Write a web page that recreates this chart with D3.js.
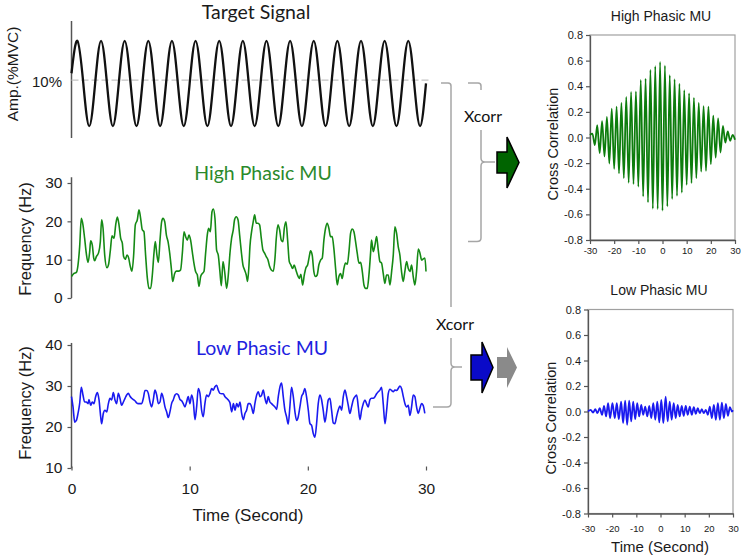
<!DOCTYPE html>
<head>
  <meta charset="utf-8">
  <script src="https://cdnjs.cloudflare.com/ajax/libs/d3/7.8.5/d3.min.js"></script>
</head>

<style>

body {
  margin: 0;
  background-color: #fff;
}

svg {
  display: block;
}

.arial, .tick text {
  font-family: Arial, "Liberation Sans", sans-serif;
  fill: #1a1a1a;
}

.cal {
  font-family: Lato, "Open Sans", sans-serif;
}

.bracket {
  fill: none;
  stroke: #a6a6a6;
  stroke-width: 1.5;
}

</style>

<body>
  <svg id='fig' width='743' height='559'></svg>
</body>

<script>

// ---- data ----
var timeTicks = [0, 10, 20, 30];
var highTicks = [0, 10, 20, 30];
var lowTicks = [10, 20, 30, 40];
var xcTicks = [-0.8, -0.6, -0.4, -0.2, 0, 0.2, 0.4, 0.6, 0.8];
var lagTicks = [-30, -20, -10, 0, 10, 20, 30];

// target sine, one value every 0.5 s (0..30 s)
var targetStep = 0.5;
var targetAmp = [10.6, 13.45, 9.7, 5.95, 9.7, 13.45, 9.7, 5.95, 9.7, 13.45, 9.7, 5.95,
  9.7, 13.45, 9.7, 5.95, 9.7, 13.45, 9.7, 5.95, 9.7, 13.45, 9.7, 5.95, 9.7, 13.45,
  9.7, 5.95, 9.7, 13.45, 9.7, 5.95, 9.7, 13.45, 9.7, 5.95, 9.7, 13.45, 9.7, 5.95,
  9.7, 13.45, 9.7, 5.95, 9.7, 13.45, 9.7, 5.95, 9.7, 13.45, 9.7, 5.95, 9.7, 13.45,
  9.7, 5.95, 9.7, 13.45, 9.7, 5.95, 9.7];
var targetLevel = 10;

// high phasic MU discharge rate [s, Hz]
var highMU = [[0,5.6],[0.21,6.4],[0.41,6.7],[0.55,8.6],[0.69,13.4],[0.83,20.8],[0.97,19.1],
  [1.11,15.6],[1.25,11.7],[1.4,9.3],[1.54,12.1],[1.62,14.9],[1.76,13.8],[1.88,10.4],[1.96,9.7],
  [2.1,10.8],[2.3,11.9],[2.44,14.7],[2.55,20.4],[2.67,18.2],[2.81,11.2],[3.0,7.9],[3.14,8.8],
  [3.29,12.5],[3.43,16.2],[3.6,15.6],[3.74,19.1],[3.88,21.1],[4.02,19.1],[4.16,15.6],[4.3,14.3],
  [4.41,10.8],[4.55,10.1],[4.7,11.2],[4.84,10.4],[4.98,8.2],[5.12,7.0],[5.26,11.2],[5.4,19.1],
  [5.57,20.4],[5.71,23.0],[5.85,20.8],[5.99,17.8],[6.13,17.3],[6.27,11.2],[6.42,5.1],[6.56,2.5],
  [6.7,2.5],[6.84,6.0],[6.98,11.7],[7.09,14.7],[7.23,11.2],[7.35,9.3],[7.49,15.1],[7.63,19.9],
  [7.74,20.8],[7.89,19.9],[8.03,16.4],[8.17,14.7],[8.31,11.7],[8.45,7.7],[8.56,4.3],[8.73,6.4],
  [8.87,7.0],[9.09,7.0],[9.23,7.3],[9.38,11.7],[9.52,17.3],[9.66,16.0],[9.8,15.1],[9.94,16.4],
  [10.08,15.1],[10.22,12.1],[10.36,9.1],[10.5,6.9],[10.65,6.0],[10.79,3.0],[10.93,5.6],[11.07,6.4],
  [11.21,6.9],[11.35,11.7],[11.49,16.4],[11.6,18.2],[11.75,17.3],[11.89,22.5],[12.0,23.2],
  [12.14,20.8],[12.28,12.5],[12.42,11.2],[12.56,6.9],[12.68,3.2],[12.82,9.5],[12.96,6.9],
  [13.13,2.5],[13.27,6.0],[13.41,11.7],[13.55,15.6],[13.69,17.8],[13.8,20.4],[13.94,21.2],
  [14.09,20.4],[14.23,16.4],[14.37,12.1],[14.51,8.6],[14.65,7.3],[14.79,6.0],[14.9,4.3],
  [15.02,8.6],[15.1,13.4],[15.24,17.3],[15.38,19.9],[15.5,21.7],[15.64,19.5],[15.78,19.5],
  [15.92,19.1],[16.06,15.6],[16.2,12.5],[16.34,11.7],[16.48,10.8],[16.63,9.9],[16.77,8.2],
  [16.91,7.3],[17.08,7.0],[17.22,10.4],[17.33,15.6],[17.47,19.1],[17.61,17.8],[17.75,15.1],
  [17.89,14.7],[18.01,18.2],[18.15,19.9],[18.29,15.1],[18.43,9.5],[18.57,8.6],[18.71,7.7],
  [18.85,8.6],[18.99,7.3],[19.13,6.0],[19.27,5.1],[19.41,6.2],[19.56,3.4],[19.7,6.0],[19.84,7.9],
  [19.98,8.6],[20.12,10.8],[20.23,12.3],[20.37,11.2],[20.51,6.9],[20.65,5.6],[20.79,6.0],
  [20.93,8.6],[21.08,9.9],[21.22,10.4],[21.36,15.1],[21.5,18.2],[21.64,19.5],[21.78,18.2],
  [21.92,16.0],[22.06,16.0],[22.2,13.0],[22.35,7.7],[22.49,3.4],[22.63,5.6],[22.77,6.4],
  [22.91,5.1],[23.05,7.7],[23.19,9.1],[23.34,8.8],[23.48,12.1],[23.62,16.9],[23.76,18.0],
  [23.9,17.3],[24.04,14.7],[24.18,11.7],[24.33,9.1],[24.47,9.3],[24.61,6.9],[24.75,3.4],
  [24.89,2.5],[25.03,2.5],[25.17,6.0],[25.31,11.7],[25.39,15.1],[25.54,12.1],[25.68,13.8],
  [25.82,16.0],[25.96,12.5],[26.1,9.5],[26.24,9.1],[26.38,6.4],[26.52,3.8],[26.66,6.0],
  [26.8,6.0],[26.95,3.4],[27.09,6.9],[27.23,11.2],[27.37,18.6],[27.51,16.9],[27.65,13.4],
  [27.79,11.2],[27.93,6.9],[28.07,4.3],[28.21,6.9],[28.36,9.5],[28.5,7.7],[28.64,6.9],
  [28.78,8.6],[28.92,5.6],[29.06,3.4],[29.2,6.9],[29.35,12.8],[29.49,11.7],[29.63,9.9],
  [29.77,10.2],[29.91,10.4],[30.0,6.9]];

// low phasic MU discharge rate [s, Hz]
var lowMU = [[0,27.4],[0.13,24.9],[0.27,21.2],[0.41,21.6],[0.55,23.3],[0.69,25.7],[0.83,29.7],
  [0.97,27.8],[1.11,26.1],[1.25,26.1],[1.4,25.7],[1.48,26.7],[1.62,25.3],[1.76,26.1],[1.9,25.7],
  [2.04,27.4],[2.19,28.4],[2.33,26.6],[2.47,22.5],[2.55,20.8],[2.69,23.3],[2.83,24.1],[2.98,23.7],
  [3.12,25.7],[3.26,27.0],[3.4,26.6],[3.54,28.4],[3.68,26.6],[3.82,25.7],[3.96,28.2],[4.1,27.0],
  [4.24,25.3],[4.39,26.1],[4.53,27.0],[4.67,27.8],[4.81,28.2],[4.95,27.5],[5.09,27.0],[5.23,26.7],
  [5.37,26.4],[5.51,25.9],[5.65,25.7],[5.8,25.7],[5.94,25.7],[6.08,27.0],[6.22,28.9],[6.36,28.9],
  [6.5,28.2],[6.64,26.1],[6.78,24.9],[6.92,26.6],[7.06,29.0],[7.21,27.8],[7.35,25.7],[7.49,26.1],
  [7.63,28.2],[7.77,27.0],[7.91,24.9],[8.05,23.7],[8.19,22.3],[8.33,23.7],[8.47,25.7],[8.61,26.6],
  [8.76,27.8],[8.9,28.1],[9.04,27.8],[9.18,26.7],[9.32,26.4],[9.46,25.7],[9.6,24.9],[9.74,26.1],
  [9.88,27.4],[10.02,25.7],[10.17,27.8],[10.31,26.1],[10.45,21.8],[10.59,24.9],[10.73,29.4],
  [10.87,28.2],[11.01,24.1],[11.15,22.5],[11.29,25.7],[11.43,27.8],[11.58,27.4],[11.72,28.2],
  [11.86,29.4],[12.0,29.0],[12.14,29.8],[12.28,30.2],[12.42,29.0],[12.56,28.2],[12.7,28.1],
  [12.84,28.1],[12.99,27.4],[13.13,27.0],[13.27,26.6],[13.41,25.9],[13.56,23.7],[13.7,25.7],
  [13.84,24.1],[13.98,25.7],[14.12,24.9],[14.26,26.1],[14.4,23.3],[14.54,21.8],[14.68,23.3],
  [14.82,24.1],[14.96,25.7],[15.1,25.7],[15.24,24.9],[15.38,23.3],[15.52,25.7],[15.67,27.8],
  [15.81,28.6],[15.95,27.4],[16.09,27.8],[16.23,29.0],[16.37,27.0],[16.51,25.7],[16.65,27.4],
  [16.79,26.1],[16.93,25.7],[17.07,25.3],[17.22,24.9],[17.36,24.3],[17.5,27.4],[17.64,29.8],
  [17.78,30.7],[17.92,27.4],[18.06,24.1],[18.2,22.5],[18.34,20.7],[18.48,24.9],[18.62,29.7],
  [18.77,27.4],[18.91,23.7],[19.05,21.6],[19.19,22.5],[19.33,24.9],[19.47,27.4],[19.61,28.2],
  [19.75,29.4],[19.89,27.4],[20.04,24.1],[20.18,20.8],[20.32,20.4],[20.46,18.4],[20.6,17.5],
  [20.74,20.8],[20.88,25.7],[21.02,27.8],[21.16,26.7],[21.3,24.1],[21.45,21.2],[21.59,23.7],
  [21.73,26.6],[21.87,27.0],[22.01,24.1],[22.15,21.0],[22.29,20.8],[22.43,22.5],[22.57,24.1],
  [22.72,25.1],[22.86,24.1],[23.0,27.4],[23.14,29.0],[23.28,27.4],[23.42,25.3],[23.56,23.3],
  [23.7,24.9],[23.84,26.6],[23.99,27.4],[24.13,27.8],[24.27,24.9],[24.41,21.8],[24.55,24.1],
  [24.69,25.7],[24.83,26.6],[24.97,25.7],[25.11,24.9],[25.25,26.6],[25.39,27.0],[25.54,27.0],
  [25.68,27.4],[25.82,28.1],[25.96,28.6],[26.1,29.0],[26.24,29.7],[26.38,25.7],[26.53,20.8],
  [26.67,24.1],[26.81,28.2],[26.95,29.2],[27.09,28.9],[27.23,28.6],[27.37,29.0],[27.51,28.9],
  [27.65,29.4],[27.79,30.0],[27.93,29.4],[28.08,27.4],[28.22,25.7],[28.36,24.9],[28.5,25.3],
  [28.64,22.8],[28.78,24.9],[28.92,27.8],[29.06,27.4],[29.2,24.9],[29.34,23.3],[29.48,24.5],
  [29.62,25.7],[29.76,25.3],[29.9,23.3]];

// cross correlation, high phasic MU vs target [lag s, r]
var xcHigh = [[-30,0.02],[-29,0.03],[-28,-0.06],[-27,0.096],[-26,-0.122],[-25,0.127],
  [-24,-0.148],[-23,0.16],[-22,-0.203],[-21,0.226],[-20,-0.244],[-19,0.24],[-18,-0.28],
  [-17,0.27],[-16,-0.317],[-15,0.317],[-14,-0.353],[-13,0.356],[-12,-0.364],[-11,0.36],
  [-10,-0.384],[-9,0.45],[-8,-0.46],[-7,0.46],[-6,-0.506],[-5,0.527],[-4,-0.556],[-3,0.556],
  [-2,-0.558],[-1,0.59],[0,-0.571],[1,0.56],[2,-0.538],[3,0.486],[4,-0.48],[5,0.455],
  [6,-0.455],[7,0.42],[8,-0.43],[9,0.37],[10,-0.37],[11,0.345],[12,-0.356],[13,0.31],
  [14,-0.317],[15,0.27],[16,-0.267],[17,0.244],[18,-0.26],[19,0.24],[20,-0.208],[21,0.17],
  [22,-0.156],[23,0.15],[24,-0.117],[25,0.09],[26,-0.04],[27,0.047],[28,-0.026],[29,0.02],
  [30,-0.018]];

// cross correlation, low phasic MU vs target [lag s, r]
var xcLow = [[-30,0],[-28.89,0.013],[-27.92,-0.008],[-26.95,0.018],[-26.12,-0.013],[-25.15,0.026],
  [-24.18,-0.026],[-23.35,0.044],[-22.52,-0.039],[-21.69,0.065],[-20.86,-0.052],[-19.89,0.065],
  [-18.92,-0.052],[-18.09,0.065],[-17.26,-0.06],[-16.29,0.078],[-15.46,-0.091],[-14.63,0.086],
  [-13.8,-0.104],[-12.96,0.086],[-12.13,-0.078],[-11.3,0.078],[-10.47,-0.06],[-9.64,0.065],
  [-8.81,-0.039],[-7.98,0.052],[-7.15,-0.026],[-6.32,0.039],[-5.48,-0.039],[-4.65,0.044],
  [-3.82,-0.052],[-2.99,0.065],[-2.16,-0.065],[-1.33,0.078],[-0.5,-0.086],[0.33,0.091],
  [1.16,-0.091],[2.13,0.117],[2.96,-0.078],[3.8,0.078],[4.63,-0.065],[5.46,0.065],[6.29,-0.052],
  [7.12,0.052],[7.95,-0.039],[8.78,0.044],[9.61,-0.034],[10.44,0.044],[11.27,-0.026],[12.11,0.039],
  [12.94,-0.026],[13.77,0.034],[14.6,-0.018],[15.43,0.026],[16.26,-0.013],[17.09,0.018],
  [17.92,-0.013],[18.75,0.013],[19.58,-0.026],[20.42,0.039],[21.25,-0.052],[22.08,0.052],
  [22.91,-0.065],[23.74,0.065],[24.57,-0.065],[25.4,0.07],[26.23,-0.052],[27.06,0.06],
  [27.89,-0.034],[28.73,0.034],[29.56,0],[30,0.01]];

// ---- drawing ----
var svg = d3.select('#fig');

var xTime = d3.scaleLinear().domain([0, 30]).range([71.5, 426]);
var yTarget = d3.scaleLinear().domain([4.9, 15.2]).range([138, 21]);
var yHigh = d3.scaleLinear().domain([0, 30]).range([298, 183]);
var yLow = d3.scaleLinear().domain([10, 40]).range([468, 345]);

var xLagH = d3.scaleLinear().domain([-30, 30]).range([590, 735]);
var yXcH = d3.scaleLinear().domain([-0.8, 0.8]).range([240, 35]);
var xLagL = d3.scaleLinear().domain([-30, 30]).range([588, 733]);
var yXcL = d3.scaleLinear().domain([-0.8, 0.8]).range([513.5, 309.5]);

function text(x, y, str, size, cls, anchor, color, rot) {
  var t = svg.append('text')
    .attr('class', cls)
    .attr('font-size', size + 'px')
    .attr('text-anchor', anchor || 'middle')
    .style('fill', color || '#1a1a1a')
    .text(str);
  if (rot) t.attr('transform', 'translate(' + x + ',' + y + ') rotate(-90)');
  else t.attr('x', x).attr('y', y);
  return t;
}

function styleAxis(g, size, keepDomain) {
  g.selectAll('.tick text').attr('font-size', size + 'px');
  g.selectAll('.tick line').attr('stroke', '#555').attr('stroke-width', 1.2);
  if (keepDomain) g.select('.domain').attr('stroke', '#555').attr('stroke-width', 1.3);
  else g.select('.domain').remove();
}

// target signal panel
svg.append('line')
  .attr('x1', xTime(0)).attr('x2', xTime(0))
  .attr('y1', yTarget.range()[1]).attr('y2', yTarget.range()[0])
  .attr('stroke', '#555').attr('stroke-width', 1.5);

svg.append('line')
  .attr('x1', xTime(0)).attr('x2', xTime(30) + 3)
  .attr('y1', yTarget(targetLevel)).attr('y2', yTarget(targetLevel))
  .attr('stroke', '#c4c4c4').attr('stroke-width', 1.2)
  .attr('stroke-dasharray', '7,3');

svg.append('path')
  .datum(targetAmp)
  .attr('fill', 'none')
  .attr('stroke', '#111')
  .attr('stroke-width', 2.3)
  .attr('d', d3.line()
    .x(function(d, i) { return xTime(i * targetStep); })
    .y(function(d) { return yTarget(d); })
    .curve(d3.curveNatural));

text(256, 18.5, 'Target Signal', 19.5, 'cal');
text(62, 87, '10%', 15, 'arial', 'end');
text(18, 74, 'Amp.(%MVC)', 15.5, 'arial', 'middle', '#1a1a1a', true);

// high phasic MU panel
var gH = svg.append('g')
  .attr('transform', 'translate(' + xTime(0) + ',0)')
  .call(d3.axisLeft(yHigh).tickValues(highTicks).tickSize(4).tickSizeOuter(0).tickPadding(5));
styleAxis(gH, 15.5, false);
svg.append('line')
  .attr('x1', xTime(0)).attr('x2', xTime(0))
  .attr('y1', yHigh(31.5)).attr('y2', yHigh(0))
  .attr('stroke', '#555').attr('stroke-width', 1.5);

svg.append('path')
  .datum(highMU)
  .attr('fill', 'none')
  .attr('stroke', '#158a15')
  .attr('stroke-width', 1.6)
  .attr('d', d3.line()
    .x(function(d) { return xTime(d[0]); })
    .y(function(d) { return yHigh(d[1]); })
    .curve(d3.curveMonotoneX));

text(263, 180, 'High Phasic MU', 19.5, 'cal', 'middle', '#2b8a2b');
text(31, 239, 'Frequency (Hz)', 16.5, 'arial', 'middle', '#1a1a1a', true);

// low phasic MU panel
var gL = svg.append('g')
  .attr('transform', 'translate(' + xTime(0) + ',0)')
  .call(d3.axisLeft(yLow).tickValues(lowTicks).tickSize(4).tickSizeOuter(0).tickPadding(5));
styleAxis(gL, 15.5, false);
svg.append('line')
  .attr('x1', xTime(0)).attr('x2', xTime(0))
  .attr('y1', yLow(40.5)).attr('y2', yLow(10))
  .attr('stroke', '#555').attr('stroke-width', 1.5);

var gX = svg.append('g')
  .attr('transform', 'translate(0,466.5)')
  .call(d3.axisBottom(xTime).tickValues(timeTicks).tickSize(4).tickSizeOuter(0).tickPadding(12));
styleAxis(gX, 15.5, false);

svg.append('path')
  .datum(lowMU)
  .attr('fill', 'none')
  .attr('stroke', '#1a1af0')
  .attr('stroke-width', 1.6)
  .attr('d', d3.line()
    .x(function(d) { return xTime(d[0]); })
    .y(function(d) { return yLow(d[1]); })
    .curve(d3.curveMonotoneX));

text(262, 355, 'Low Phasic MU', 19.5, 'cal', 'middle', '#1f1fe0');
text(31, 403, 'Frequency (Hz)', 16.5, 'arial', 'middle', '#1a1a1a', true);
text(248, 521, 'Time (Second)', 17, 'arial');

// brackets and arrows
svg.append('path').attr('class', 'bracket')
  .attr('d', 'M468,83 H478 Q481,83 481,86 V90 ' +
             'M481,130 V158 Q481,162 485,162 H495 M485,162 Q481,162 481,166 V238 Q481,241.5 477,241.5 H468');
svg.append('path').attr('class', 'bracket')
  .attr('d', 'M441,83 H448 Q451,83 451,86 V307 ' +
             'M451,338 V363 Q451,367 455,367 H462 M455,367 Q451,367 451,371 V403 Q451,407 447,407 H433');

text(483, 122, 'Xcorr', 16, 'cal', 'middle', '#111');
text(455, 330, 'Xcorr', 16, 'cal', 'middle', '#111');

svg.append('path')
  .attr('d', 'M497,152 H507 V137 L519,162.5 L507,188 V173 H497 Z')
  .attr('fill', '#006400').attr('stroke', '#000').attr('stroke-width', 1.5)
  .attr('stroke-linejoin', 'miter');
svg.append('path')
  .attr('d', 'M471,355 H482 V342 L493,367.5 L482,393 V380 H471 Z')
  .attr('fill', '#0a0ac8').attr('stroke', '#000').attr('stroke-width', 1.5);
svg.append('path')
  .attr('d', 'M497,357 H507 V347 L517,367.5 L507,388 V378 H497 Z')
  .attr('fill', '#8a8a8a');

// cross correlation panels
function xcPanel(xs, ys, data, color, xPad) {
  svg.append('rect')
    .attr('x', xs.range()[0]).attr('y', ys.range()[1])
    .attr('width', xs.range()[1] - xs.range()[0])
    .attr('height', ys.range()[0] - ys.range()[1])
    .attr('fill', 'none').attr('stroke', '#a0a0a0').attr('stroke-width', 1.2);

  var gy = svg.append('g')
    .attr('transform', 'translate(' + xs.range()[0] + ',0)')
    .call(d3.axisLeft(ys).tickValues(xcTicks).tickSize(4).tickSizeOuter(0).tickPadding(3)
      .tickFormat(function(d) { return d.toFixed(1); }));
  styleAxis(gy, 11, true);

  var gx = svg.append('g')
    .attr('transform', 'translate(0,' + ys.range()[0] + ')')
    .call(d3.axisBottom(xs).tickValues(lagTicks).tickSize(4).tickSizeOuter(0).tickPadding(xPad)
      .tickFormat(function(d) { return String(d); }));
  styleAxis(gx, 9.5, true);

  svg.append('path')
    .datum(data)
    .attr('fill', 'none')
    .attr('stroke', color)
    .attr('stroke-width', 1.8)
    .attr('d', d3.line()
      .x(function(d) { return xs(d[0]); })
      .y(function(d) { return ys(d[1]); })
      .curve(d3.curveMonotoneX));
}

xcPanel(xLagH, yXcH, xcHigh, '#0d7d0d', 3);
xcPanel(xLagL, yXcL, xcLow, '#1a1af0', 8);

text(661, 20.7, 'High Phasic MU', 14, 'arial');
text(558, 144, 'Cross Correlation', 14.5, 'arial', 'middle', '#1a1a1a', true);
text(659, 295, 'Low Phasic MU', 14, 'arial');
text(556, 418, 'Cross Correlation', 14.5, 'arial', 'middle', '#1a1a1a', true);
text(660, 552, 'Time (Second)', 15, 'arial');

</script>
